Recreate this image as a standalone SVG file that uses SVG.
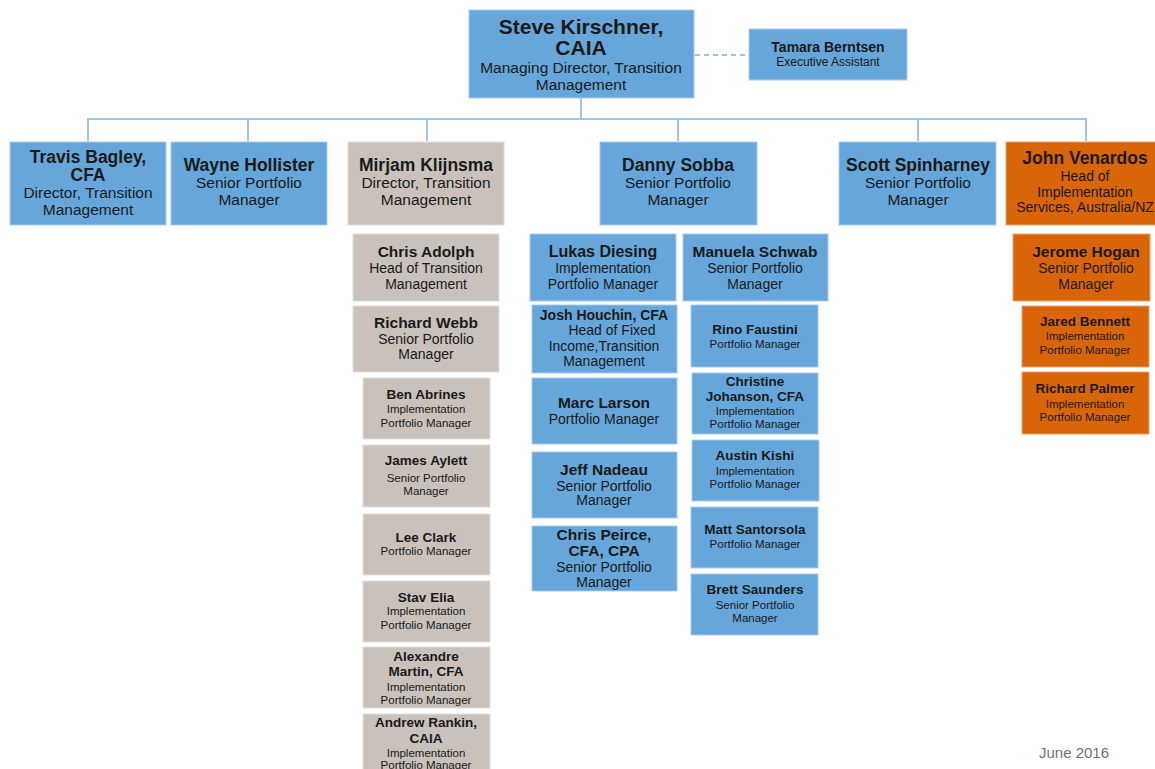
<svg xmlns="http://www.w3.org/2000/svg" width="1155" height="769" viewBox="0 0 1155 769">
<style>
.b{fill:#66a6da;stroke:#a9cbe9;stroke-width:1}
.g{fill:#c9c1ba;stroke:#e2ddd9;stroke-width:1}
.o{fill:#d9650a;stroke:#eba26a;stroke-width:1}
text{font-family:"Liberation Sans",Arial,sans-serif;fill:#1a1a1a;text-anchor:middle}
.n20{font-size:21px;font-weight:bold}
.s15{font-size:15.5px}
.n16{font-size:17.5px;font-weight:bold}
.s14{font-size:15.5px}
.s13{font-size:14px}
.n15{font-size:16px;font-weight:bold}
.n14{font-size:15.5px;font-weight:bold}
.n13{font-size:14px;font-weight:bold}
.n12{font-size:13.5px;font-weight:bold}
.s12{font-size:14px}
.s10{font-size:11.5px}
.c{fill:none;stroke:#9dc3e6;stroke-width:2}
</style>
<g id="connectors">
<path class="c" d="M581 98V119M88 141V119H1086V141M248 119V141M427 119V141M678 119V141M918 119V141"/>
<path d="M695 55H749" fill="none" stroke="#9dc3e6" stroke-width="2" stroke-dasharray="5,4"/>
</g>
<g id="steve"><rect class="b" x="469" y="10" width="225" height="88"/>
<text x="581" y="34" class="n20">Steve Kirschner,</text><text x="581" y="55" class="n20">CAIA</text>
<text x="581" y="73" class="s15">Managing Director, Transition</text><text x="581" y="90" class="s15">Management</text></g>
<g id="tamara"><rect class="b" x="749" y="29" width="158" height="51"/>
<text x="828" y="52" style="font-size:14px;font-weight:bold">Tamara Berntsen</text><text x="828" y="66" style="font-size:12px">Executive Assistant</text></g>
<g id="travis"><rect class="b" x="10" y="142" width="156" height="83"/>
<text x="88" y="163" class="n16">Travis Bagley,</text><text x="88" y="181" class="n16">CFA</text>
<text x="88" y="198" class="s14">Director, Transition</text><text x="88" y="215" class="s14">Management</text></g>
<g id="wayne"><rect class="b" x="171" y="142" width="156" height="83"/>
<text x="249" y="171" class="n16">Wayne Hollister</text><text x="249" y="188" class="s14">Senior Portfolio</text><text x="249" y="205" class="s14">Manager</text></g>
<g id="mirjam"><rect class="g" x="348" y="142" width="156" height="83"/>
<text x="426" y="171" class="n16">Mirjam Klijnsma</text><text x="426" y="188" class="s14">Director, Transition</text><text x="426" y="205" class="s14">Management</text></g>
<g id="danny"><rect class="b" x="600" y="142" width="157" height="83"/>
<text x="678" y="171" class="n16">Danny Sobba</text><text x="678" y="188" class="s14">Senior Portfolio</text><text x="678" y="205" class="s14">Manager</text></g>
<g id="scott"><rect class="b" x="839" y="142" width="157" height="83"/>
<text x="918" y="171" class="n16">Scott Spinharney</text><text x="918" y="188" class="s14">Senior Portfolio</text><text x="918" y="205" class="s14">Manager</text></g>
<g id="john"><rect class="o" x="1006" y="142" width="160" height="83"/>
<text x="1085" y="164" class="n16">John Venardos</text><text x="1085" y="181" class="s13">Head of</text>
<text x="1085" y="197" class="s13">Implementation</text><text x="1085" y="212" class="s13">Services, Australia/NZ</text></g>
<g id="chris-adolph"><rect class="g" x="353" y="234" width="146" height="67"/>
<text x="426" y="257" class="n14">Chris Adolph</text><text x="426" y="273" class="s12">Head of Transition</text><text x="426" y="289" class="s12">Management</text></g>
<g id="richard-webb"><rect class="g" x="353" y="306" width="146" height="66"/>
<text x="426" y="328" class="n14">Richard Webb</text><text x="426" y="344" class="s12">Senior Portfolio</text><text x="426" y="359" class="s12">Manager</text></g>
<g id="ben-abrines"><rect class="g" x="363" y="378" width="127" height="61"/>
<text x="426" y="399" class="n12">Ben Abrines</text><text x="426" y="413" class="s10">Implementation</text><text x="426" y="427" class="s10">Portfolio Manager</text></g>
<g id="james-aylett"><rect class="g" x="363" y="445" width="127" height="62"/>
<text x="426" y="465" class="n12">James Aylett</text><text x="426" y="482" class="s10">Senior Portfolio</text><text x="426" y="495" class="s10">Manager</text></g>
<g id="lee-clark"><rect class="g" x="363" y="514" width="127" height="61"/>
<text x="426" y="542" class="n12">Lee Clark</text><text x="426" y="555" class="s10">Portfolio Manager</text></g>
<g id="stav-elia"><rect class="g" x="363" y="581" width="127" height="61"/>
<text x="426" y="602" class="n12">Stav Elia</text><text x="426" y="615" class="s10">Implementation</text><text x="426" y="629" class="s10">Portfolio Manager</text></g>
<g id="alexandre-martin"><rect class="g" x="363" y="647" width="127" height="61"/>
<text x="426" y="661" class="n12">Alexandre</text><text x="426" y="676" class="n12">Martin, CFA</text><text x="426" y="691" class="s10">Implementation</text><text x="426" y="704" class="s10">Portfolio Manager</text></g>
<g id="andrew-rankin"><rect class="g" x="363" y="714" width="127" height="60"/>
<text x="426" y="727" class="n12">Andrew Rankin,</text><text x="426" y="743" class="n12">CAIA</text><text x="426" y="757" class="s10">Implementation</text><text x="426" y="769" class="s10">Portfolio Manager</text></g>
<g id="lukas-diesing"><rect class="b" x="530" y="234" width="146" height="67"/>
<text x="603" y="257" class="n15">Lukas Diesing</text><text x="603" y="273" class="s13">Implementation</text><text x="603" y="289" class="s13">Portfolio Manager</text></g>
<g id="manuela-schwab"><rect class="b" x="683" y="234" width="145" height="67"/>
<text x="755" y="257" class="n14">Manuela Schwab</text><text x="755" y="273" class="s13">Senior Portfolio</text><text x="755" y="289" class="s13">Manager</text></g>
<g id="josh-houchin"><rect class="b" x="532" y="305" width="145" height="68"/>
<text x="604" y="320" class="n13">Josh Houchin, CFA</text><text x="612" y="335" class="s12">Head of Fixed</text><text x="604" y="351" class="s12">Income,Transition</text><text x="604" y="366" class="s12">Management</text></g>
<g id="rino-faustini"><rect class="b" x="691" y="305" width="127" height="62"/>
<text x="755" y="334" class="n12">Rino Faustini</text><text x="755" y="348" class="s10">Portfolio Manager</text></g>
<g id="marc-larson"><rect class="b" x="532" y="378" width="145" height="66"/>
<text x="604" y="408" class="n14">Marc Larson</text><text x="604" y="424" class="s13">Portfolio Manager</text></g>
<g id="christine-johanson"><rect class="b" x="692" y="373" width="126" height="61"/>
<text x="755" y="386" class="n12">Christine</text><text x="755" y="401" class="n12">Johanson, CFA</text><text x="755" y="415" class="s10">Implementation</text><text x="755" y="428" class="s10">Portfolio Manager</text></g>
<g id="jeff-nadeau"><rect class="b" x="532" y="452" width="145" height="66"/>
<text x="604" y="475" class="n14">Jeff Nadeau</text><text x="604" y="491" class="s13">Senior Portfolio</text><text x="604" y="505" class="s13">Manager</text></g>
<g id="chris-peirce"><rect class="b" x="532" y="526" width="145" height="65"/>
<text x="604" y="540" class="n14">Chris Peirce,</text><text x="604" y="556" class="n14">CFA, CPA</text><text x="604" y="572" class="s13">Senior Portfolio</text><text x="604" y="587" class="s13">Manager</text></g>
<g id="austin-kishi"><rect class="b" x="692" y="440" width="127" height="61"/>
<text x="755" y="460" class="n12">Austin Kishi</text><text x="755" y="475" class="s10">Implementation</text><text x="755" y="488" class="s10">Portfolio Manager</text></g>
<g id="matt-santorsola"><rect class="b" x="691" y="507" width="127" height="61"/>
<text x="755" y="534" class="n12">Matt Santorsola</text><text x="755" y="548" class="s10">Portfolio Manager</text></g>
<g id="brett-saunders"><rect class="b" x="691" y="574" width="127" height="61"/>
<text x="755" y="594" class="n12">Brett Saunders</text><text x="755" y="609" class="s10">Senior Portfolio</text><text x="755" y="622" class="s10">Manager</text></g>
<g id="jerome-hogan"><rect class="o" x="1013" y="234" width="137" height="67"/>
<text x="1086" y="257" class="n14">Jerome Hogan</text><text x="1086" y="273" class="s12">Senior Portfolio</text><text x="1086" y="289" class="s12">Manager</text></g>
<g id="jared-bennett"><rect class="o" x="1022" y="306" width="127" height="61"/>
<text x="1085" y="326" class="n12">Jared Bennett</text><text x="1085" y="340" class="s10">Implementation</text><text x="1085" y="354" class="s10">Portfolio Manager</text></g>
<g id="richard-palmer"><rect class="o" x="1022" y="372" width="127" height="62"/>
<text x="1085" y="393" class="n12">Richard Palmer</text><text x="1085" y="408" class="s10">Implementation</text><text x="1085" y="421" class="s10">Portfolio Manager</text></g>
<text x="1074" y="758" style="font-size:15px;fill:#707070">June 2016</text>
</svg>
